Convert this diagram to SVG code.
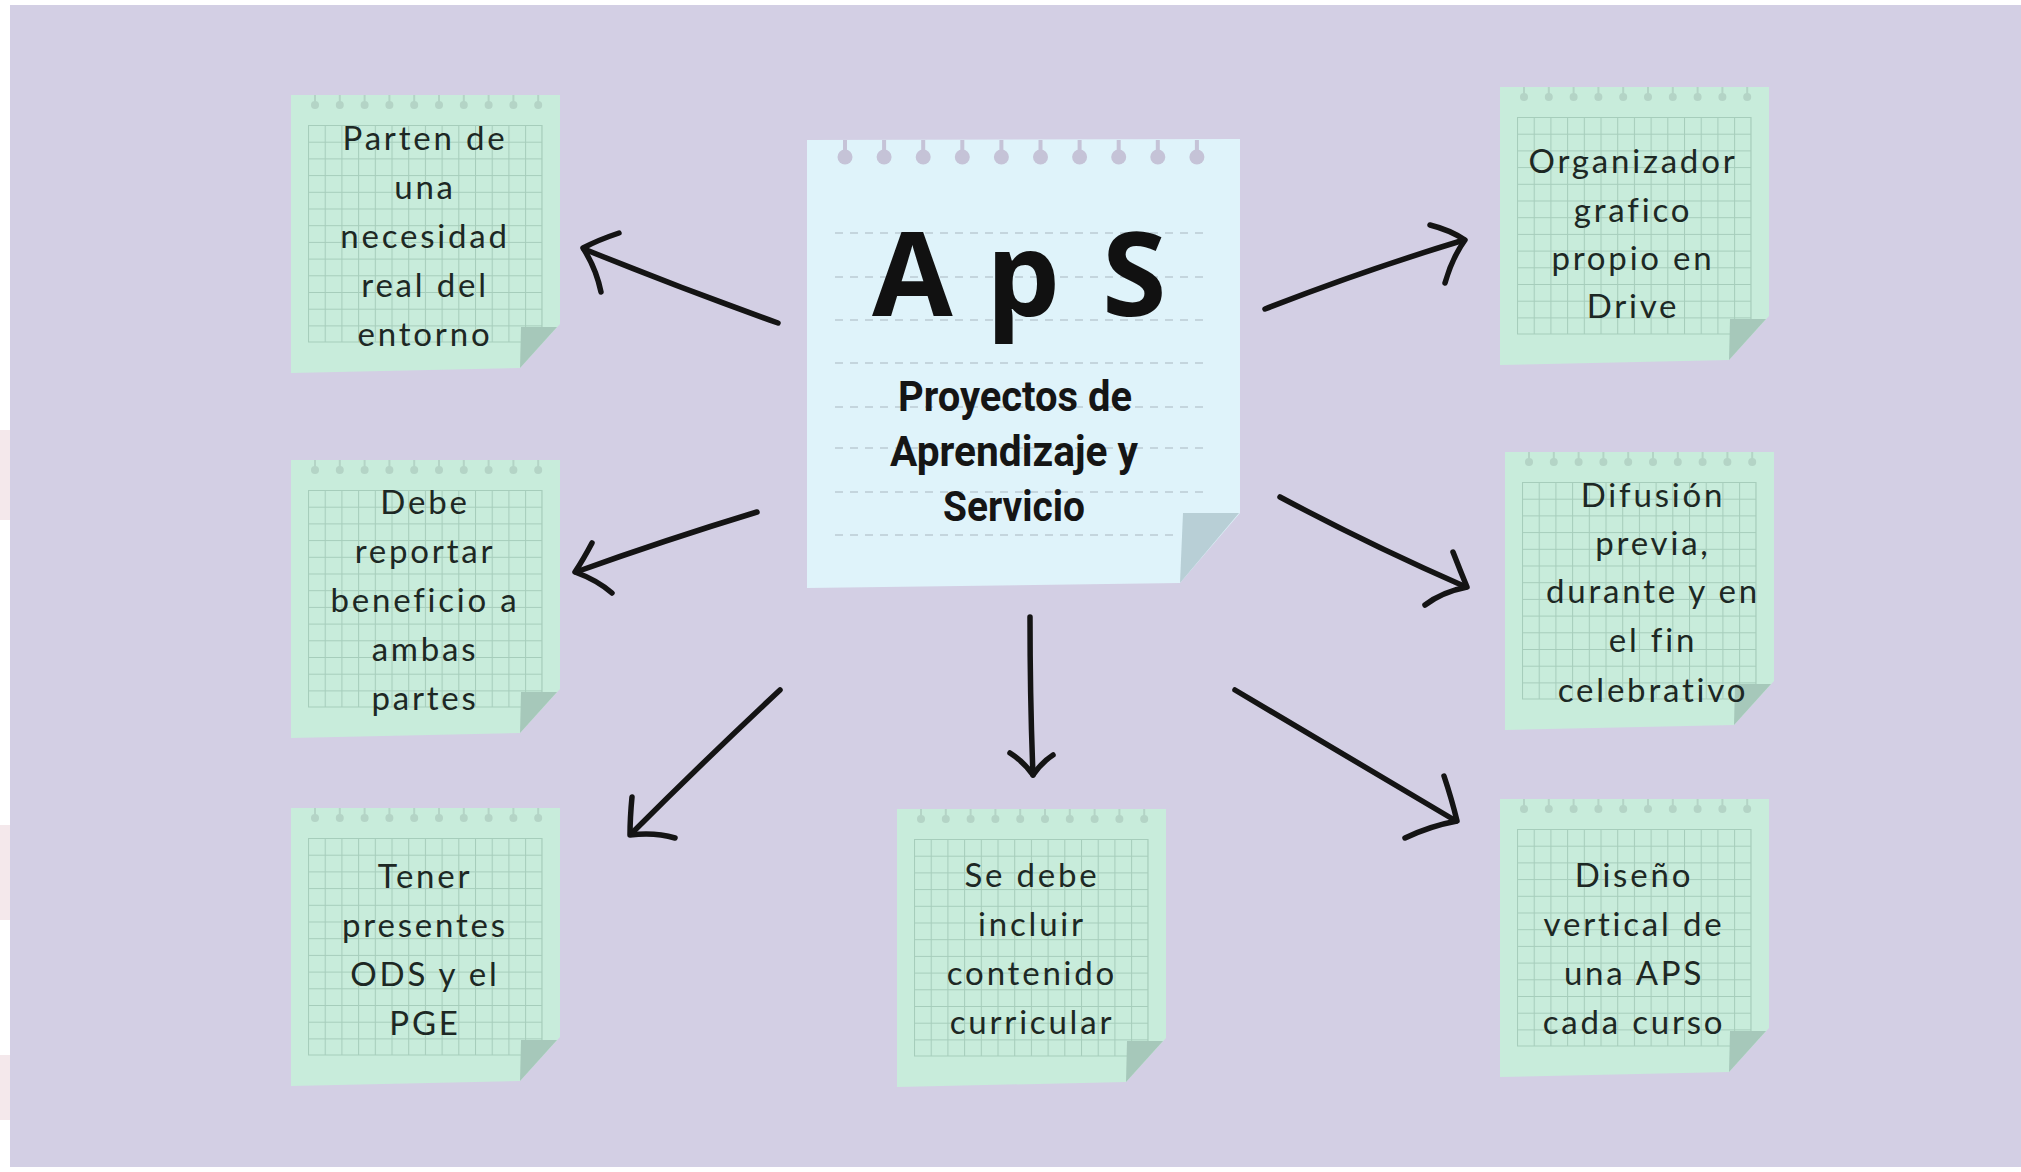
<svg xmlns="http://www.w3.org/2000/svg" xmlns:xlink="http://www.w3.org/1999/xlink" width="2021" height="1172" viewBox="0 0 2021 1172">
<style>
.bg{fill:#d3cfe4}
.paper{fill:#c8ecdb}
.fold{fill:#a6c8ba}
.hole{fill:#b4d4c6}
.gridline{stroke:#a6cdbb;stroke-width:1.1;fill:none}
.ntext{font-family:Lato,"Open Sans",sans-serif;font-size:33px;letter-spacing:2.8px;fill:#1d2824;text-anchor:middle}
.cpaper{fill:#dff3fa}
.cfold{fill:#b8cfd6}
.chole{fill:#c5c3d7}
.dash{stroke:#bccbd4;stroke-width:1.6;stroke-dasharray:8 7;fill:none}
.big{font-family:"Open Sans","Noto Sans",sans-serif;font-weight:700;font-size:117px;fill:#111}
.sub{font-family:Roboto,"Open Sans",sans-serif;font-weight:700;font-size:42px;fill:#151515;text-anchor:middle}
.arrow{stroke:#141414;stroke-width:5.5;fill:none;stroke-linecap:round;stroke-linejoin:round}
</style>
<defs>
<pattern id="grid" patternUnits="userSpaceOnUse" x="17" y="30" width="16.7" height="16.7">
<path d="M0,0.5 H16.7 M0.5,0 V16.7" class="gridline"/>
</pattern>
<g id="note">
<polygon class="paper" points="0,0 269,0 269,229 229,273 0,278"/>
<rect x="17" y="30" width="234" height="217" fill="url(#grid)"/>
<path class="gridline" d="M251,30 V247 M17,247 H251"/>
<g class="hole">
<circle cx="24" cy="10" r="4"/><circle cx="48.8" cy="10" r="4"/><circle cx="73.6" cy="10" r="4"/><circle cx="98.4" cy="10" r="4"/><circle cx="123.2" cy="10" r="4"/><circle cx="148" cy="10" r="4"/><circle cx="172.8" cy="10" r="4"/><circle cx="197.6" cy="10" r="4"/><circle cx="222.4" cy="10" r="4"/><circle cx="247.2" cy="10" r="4"/>
<path d="M23,0h2v8h-2z M47.8,0h2v8h-2z M72.6,0h2v8h-2z M97.4,0h2v8h-2z M122.2,0h2v8h-2z M147,0h2v8h-2z M171.8,0h2v8h-2z M196.6,0h2v8h-2z M221.4,0h2v8h-2z M246.2,0h2v8h-2z"/>
</g>
<polygon class="fold" points="230,232 266,232 229,273"/>
</g>
</defs>

<rect x="0" y="0" width="2021" height="1172" fill="#ffffff"/>
<rect x="0" y="430" width="10" height="90" fill="#f4e8eb"/>
<rect x="0" y="825" width="10" height="95" fill="#f4e8eb"/>
<rect x="0" y="1055" width="10" height="65" fill="#f4e8eb"/>
<rect class="bg" x="10" y="5" width="2011" height="1162"/>

<g id="center">
<polygon class="cpaper" points="807,140 1240,139 1240,513 1180,583 807,588"/>
<g class="chole">
<circle cx="845" cy="157" r="7.5"/><circle cx="884.1" cy="157" r="7.5"/><circle cx="923.2" cy="157" r="7.5"/><circle cx="962.3" cy="157" r="7.5"/><circle cx="1001.4" cy="157" r="7.5"/><circle cx="1040.5" cy="157" r="7.5"/><circle cx="1079.6" cy="157" r="7.5"/><circle cx="1118.7" cy="157" r="7.5"/><circle cx="1157.8" cy="157" r="7.5"/><circle cx="1196.9" cy="157" r="7.5"/>
<path d="M843,140h4v15h-4z M882.1,140h4v15h-4z M921.2,140h4v15h-4z M960.3,140h4v15h-4z M999.4,140h4v15h-4z M1038.5,140h4v15h-4z M1077.6,140h4v15h-4z M1116.7,140h4v15h-4z M1155.8,140h4v15h-4z M1194.9,140h4v15h-4z"/>
</g>
<path class="dash" d="M835,233 H1203 M835,277 H1203 M835,320 H1203 M835,363 H1203 M835,407 H1203 M835,448 H1203 M835,492 H1203 M835,535 H1175"/>
<polygon class="cfold" points="1183,513 1239,513 1180,583"/>
<text class="big" x="872 960 986 1080 1102" y="316">A p S</text>
<text class="sub" x="1015" y="411" textLength="234" lengthAdjust="spacingAndGlyphs">Proyectos de</text>
<text class="sub" x="1014" y="466" textLength="248" lengthAdjust="spacingAndGlyphs">Aprendizaje y</text>
<text class="sub" x="1014" y="521" textLength="142" lengthAdjust="spacingAndGlyphs">Servicio</text>
</g>

<g id="n1" transform="translate(291,95)">
<use xlink:href="#note" href="#note"/>
<text class="ntext" x="134" y="55">Parten de</text>
<text class="ntext" x="134" y="104">una</text>
<text class="ntext" x="134" y="153">necesidad</text>
<text class="ntext" x="134" y="202">real del</text>
<text class="ntext" x="134" y="251">entorno</text>
</g>

<g id="n2" transform="translate(291,460)">
<use xlink:href="#note" href="#note"/>
<text class="ntext" x="134" y="54">Debe</text>
<text class="ntext" x="134" y="103">reportar</text>
<text class="ntext" x="134" y="152">beneficio a</text>
<text class="ntext" x="134" y="201">ambas</text>
<text class="ntext" x="134" y="250">partes</text>
</g>

<g id="n3" transform="translate(291,808)">
<use xlink:href="#note" href="#note"/>
<text class="ntext" x="134" y="80">Tener</text>
<text class="ntext" x="134" y="129">presentes</text>
<text class="ntext" x="134" y="178">ODS y el</text>
<text class="ntext" x="134" y="227">PGE</text>
</g>

<g id="n4" transform="translate(897,809)">
<use xlink:href="#note" href="#note"/>
<text class="ntext" x="135" y="78">Se debe</text>
<text class="ntext" x="135" y="127">incluir</text>
<text class="ntext" x="135" y="176">contenido</text>
<text class="ntext" x="135" y="225">curricular</text>
</g>

<g id="n5" transform="translate(1500,87)">
<use xlink:href="#note" href="#note"/>
<text class="ntext" x="133" y="86">Organizador</text>
<text class="ntext" x="133" y="135">grafico</text>
<text class="ntext" x="133" y="183">propio en</text>
<text class="ntext" x="133" y="231">Drive</text>
</g>

<g id="n6" transform="translate(1505,452)">
<use xlink:href="#note" href="#note"/>
<text class="ntext" x="148" y="55">Difusión</text>
<text class="ntext" x="148" y="103">previa,</text>
<text class="ntext" x="148" y="151">durante y en</text>
<text class="ntext" x="148" y="200">el fin</text>
<text class="ntext" x="148" y="250">celebrativo</text>
</g>

<g id="n7" transform="translate(1500,799)">
<use xlink:href="#note" href="#note"/>
<text class="ntext" x="134" y="88">Diseño</text>
<text class="ntext" x="134" y="137">vertical de</text>
<text class="ntext" x="134" y="186">una APS</text>
<text class="ntext" x="134" y="235">cada curso</text>
</g>

<g id="connectors" class="arrow">
<path d="M778,323 Q680,288 584,249"/>
<path d="M619,233 Q598,240 583,248 Q596,268 601,292"/>
<path d="M757,512 Q665,540 576,572"/>
<path d="M592,543 Q583,560 575,572 Q597,580 612,593"/>
<path d="M780,690 Q705,760 631,834"/>
<path d="M632,797 Q630,818 630,835 Q655,832 675,838"/>
<path d="M1030,617 Q1030,700 1033,775"/>
<path d="M1010,753 Q1024,762 1033,775 Q1042,762 1053,755"/>
<path d="M1265,309 Q1365,270 1464,240"/>
<path d="M1430,225 Q1450,230 1465,240 Q1452,258 1445,283"/>
<path d="M1280,497 Q1370,545 1466,587"/>
<path d="M1453,552 Q1460,570 1467,587 Q1442,592 1425,605"/>
<path d="M1235,690 Q1345,755 1456,821"/>
<path d="M1444,776 Q1452,800 1457,821 Q1430,826 1405,838"/>
</g>
</svg>
